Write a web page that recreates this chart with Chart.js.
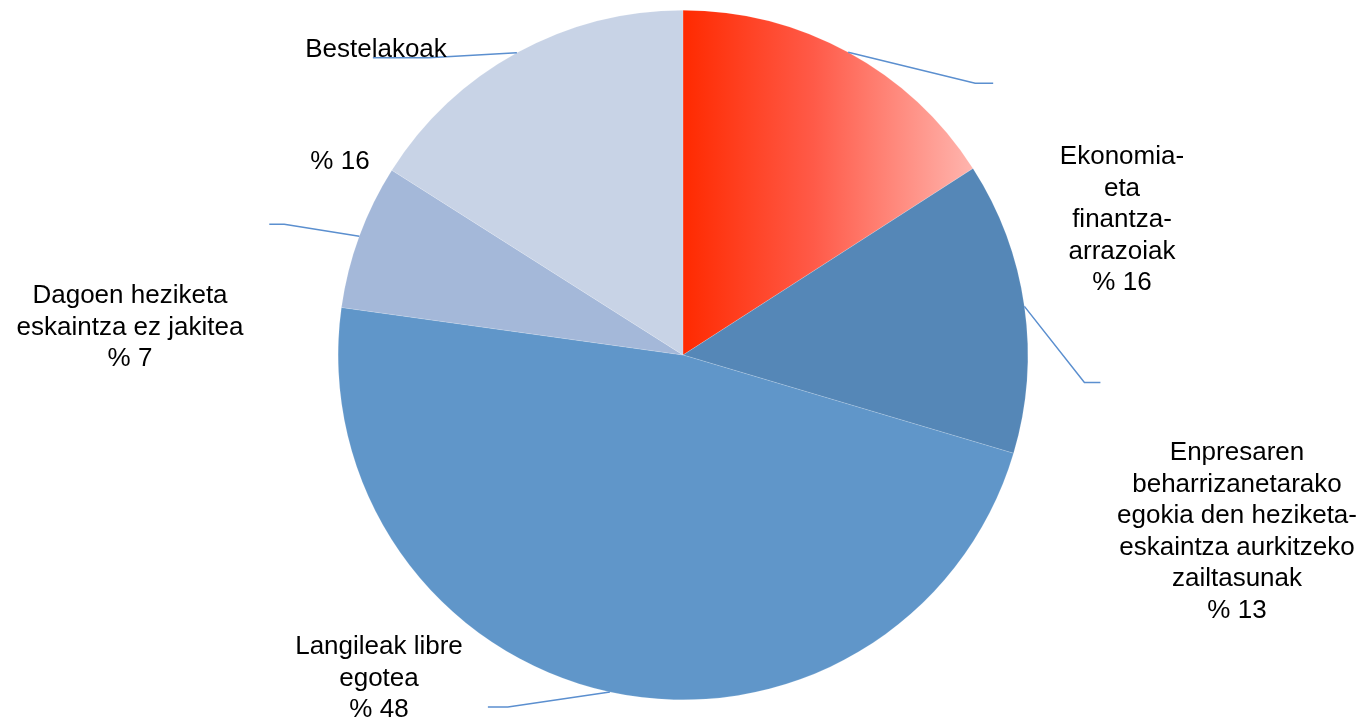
<!DOCTYPE html>
<html>
<head>
<meta charset="utf-8">
<script src="https://cdn.jsdelivr.net/npm/chart.js@4.4.0/dist/chart.umd.min.js"></script>
<style>
  html, body { margin: 0; padding: 0; background: #fff; }
  #wrap { width: 1363px; height: 721px; }
</style>
</head>
<body>
<div id="wrap"><canvas id="pie" width="1363" height="721"></canvas></div>
<script>
// data
const categories = [
  ['Ekonomia-', 'eta', 'finantza-', 'arrazoiak'],
  ['Enpresaren', 'beharrizanetarako', 'egokia den heziketa-', 'eskaintza aurkitzeko', 'zailtasunak'],
  ['Langileak libre', 'egotea'],
  ['Dagoen heziketa', 'eskaintza ez jakitea'],
  ['Bestelakoak']
];
// slice sizes as measured from the slice angles
const shares = [15.9, 13.7, 47.6, 6.8, 16.0];
// percentages as printed on the chart
const percentLabels = ['% 16', '% 13', '% 48', '% 7', '% 16'];

const sliceColors = ['#ff2a00', '#5587b7', '#6096c9', '#a4b8d9', '#c8d3e6'];

// label placement, relative to pie centre (dx, dy of first line) and leader elbows
const labelPlacement = [
  { dx: 439, dy: -198 },
  { dx: 554, dy: 98 },
  { dx: -304, dy: 292 },
  { dx: -553, dy: -59 },
  { dx: -307, dy: -305, pctDx: -343, pctDy: -193 }
];
const leaderElbows = [
  { ex: 127, ey: 31, tail: 18 },
  { ex: 60, ey: 76, tail: 16 },
  { ex: -102, ey: 15, tail: -20 },
  { ex: -75, ey: -12, tail: -15 },
  { ex: -88, ey: 5, tail: -56 }
];

const FONT = '26px "Liberation Sans", Arial, sans-serif';
const LINE_H = 31.5;

const labelPlugin = {
  id: 'outsideLabels',
  afterDatasetsDraw(chart) {
    const ctx = chart.ctx;
    const arcs = chart.getDatasetMeta(0).data;
    ctx.save();
    arcs.forEach((arc, i) => {
      const { x, y, startAngle, endAngle, outerRadius } = arc.getProps(['x', 'y', 'startAngle', 'endAngle', 'outerRadius'], true);
      const mid = (startAngle + endAngle) / 2;
      const sx = x + Math.cos(mid) * outerRadius;
      const sy = y + Math.sin(mid) * outerRadius;
      const el = leaderElbows[i];
      ctx.strokeStyle = '#5b8fcf';
      ctx.lineWidth = 1.5;
      ctx.beginPath();
      ctx.moveTo(sx, sy);
      ctx.lineTo(sx + el.ex, sy + el.ey);
      ctx.lineTo(sx + el.ex + el.tail, sy + el.ey);
      ctx.stroke();

      const p = labelPlacement[i];
      ctx.fillStyle = '#000';
      ctx.font = FONT;
      ctx.textAlign = 'center';
      ctx.textBaseline = 'middle';
      const lines = categories[i];
      lines.forEach((t, k) => ctx.fillText(t, x + p.dx, y + p.dy + k * LINE_H));
      if (p.pctDx !== undefined) {
        ctx.fillText(percentLabels[i], x + p.pctDx, y + p.pctDy);
      } else {
        ctx.fillText(percentLabels[i], x + p.dx, y + p.dy + lines.length * LINE_H);
      }
    });
    ctx.restore();
  }
};

function sliceBackground(context) {
  const i = context.dataIndex;
  const chart = context.chart;
  if (i !== 0 || !chart.chartArea) return sliceColors[i];
  const area = chart.chartArea;
  const cx = (area.left + area.right) / 2;
  const r = Math.min(area.right - area.left, area.bottom - area.top) / 2;
  const total = shares.reduce((a, b) => a + b, 0);
  const endX = cx + r * Math.sin(2 * Math.PI * shares[0] / total);
  const g = chart.ctx.createLinearGradient(cx, 0, endX, 0);
  g.addColorStop(0, '#ff2a00');
  g.addColorStop(0.45, '#ff5a48');
  g.addColorStop(1, '#ffb5ae');
  return g;
}

new Chart(document.getElementById('pie'), {
  type: 'pie',
  data: {
    labels: categories.map(c => c.join(' ')),
    datasets: [{
      data: shares,
      backgroundColor: sliceBackground,
      borderColor: 'rgba(255,255,255,0.5)',
      borderWidth: 0.3
    }]
  },
  options: {
    responsive: false,
    animation: false,
    rotation: 0,
    layout: { padding: { left: 3, right: 0, top: 10, bottom: 21 } },
    plugins: {
      legend: { display: false },
      tooltip: { enabled: false }
    }
  },
  plugins: [labelPlugin]
});
</script>
</body>
</html>
